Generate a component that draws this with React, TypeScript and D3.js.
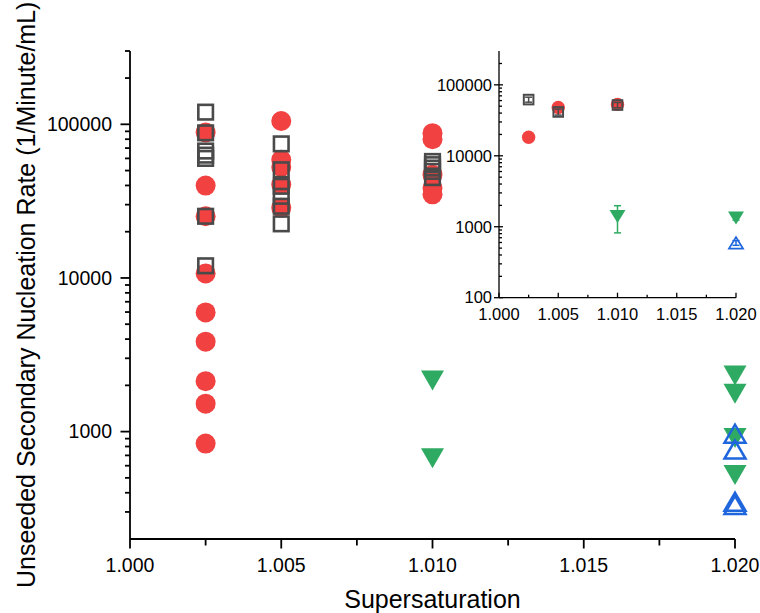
import React from "react";
import * as d3 from "d3";

// ---- Main plot data ----
const sqX = [1.0025, 1.0025, 1.0025, 1.0025, 1.0025, 1.0025, 1.0025,
  1.005, 1.005, 1.005, 1.005, 1.005, 1.005,
  1.01, 1.01, 1.01, 1.01, 1.01];
const sqY = [120000, 88000, 67000, 63000, 60000, 25200, 12000,
  74600, 50600, 39500, 34000, 29300, 22500,
  57300, 54600, 51900, 49400, 45000];

const circX = [1.0025, 1.0025, 1.0025, 1.0025, 1.0025, 1.0025, 1.0025, 1.0025, 1.0025,
  1.005, 1.005, 1.005, 1.005, 1.005,
  1.01, 1.01, 1.01, 1.01, 1.01];
const circY = [88500, 39900, 25200, 10700, 5970, 3850, 2130, 1520, 836,
  105000, 58800, 52700, 40500, 28600,
  87600, 80000, 47000, 38500, 35000];

const greenX = [1.01, 1.01, 1.02, 1.02, 1.02, 1.02];
const greenY = [2150, 671, 2320, 1763, 910, 521];

const blueX = [1.02, 1.02, 1.02, 1.02];
const blueY = [970, 764, 350, 333];

// ---- Inset data (means with error bars) ----
const inSqX = [1.0025, 1.005, 1.01];
const inSqY = [62000, 41500, 52000];
const inSqErr = [5000, 4000, 4500];

const inCircX = [1.0025, 1.005, 1.01];
const inCircY = [18300, 48000, 53000];
const inCircErr = [1500, 3500, 4000];

const inGreenX = [1.01, 1.02];
const inGreenY = [1400, 1330];
const inGreenErr = [580, 90];

const inBlueX = [1.02];
const inBlueY = [592];
const inBlueErr = [45];

// ---- ticks ----
const xMajor = [1.0, 1.005, 1.01, 1.015, 1.02];
const xMinor = [1.0025, 1.0075, 1.0125, 1.0175];
const mainYMajor = [1000, 10000, 100000];
const insetYMajor = [100, 1000, 10000, 100000];

const RED = "#f14141";
const GRAY = "#4a4a4a";
const GREEN = "#2eaa63";
const BLUE = "#1f66dd";
const FONT = "'Liberation Sans', Arial, sans-serif";

function tri(cx: number, cy: number, w: number, h: number, down: boolean) {
  const p = d3.path();
  if (down) {
    p.moveTo(cx - w / 2, cy - h / 2);
    p.lineTo(cx + w / 2, cy - h / 2);
    p.lineTo(cx, cy + h / 2);
  } else {
    p.moveTo(cx - w / 2, cy + h / 2);
    p.lineTo(cx + w / 2, cy + h / 2);
    p.lineTo(cx, cy - h / 2);
  }
  p.closePath();
  return p.toString();
}

function minorLog(lo: number, hi: number) {
  const out: number[] = [];
  for (let dec = 1; dec <= 1e6; dec *= 10) {
    for (let k = 2; k <= 9; k++) {
      const v = k * dec;
      if (v > lo && v < hi) out.push(v);
    }
  }
  return out;
}

export default function App() {
  const W = 760, H = 613;
  // main scales
  const x = d3.scaleLinear().domain([1.0, 1.02]).range([130, 735]);
  const y = d3.scaleLog().domain([200, 300000]).range([539, 51]);
  const yB = y(200);
  // inset scales
  const ix = d3.scaleLinear().domain([1.0, 1.02]).range([499, 736]);
  const iy = d3.scaleLog().domain([100, 300000]).range([297.7, 51]);
  const iyB = iy(100);

  const mainMinorY = minorLog(200, 300000);
  const insetMinorY = minorLog(100, 300000);

  const errBar = (xs: number[], ys: number[], es: number[], color: string, key: string) =>
    xs.map((xv, i) => {
      const cx = ix(xv);
      const y1 = iy(ys[i] + es[i]);
      const y2 = iy(Math.max(ys[i] - es[i], 1));
      return (
        <g key={key + i} stroke={color} strokeWidth={1.5}>
          <line x1={cx} x2={cx} y1={y1} y2={y2} />
          <line x1={cx - 3.5} x2={cx + 3.5} y1={y1} y2={y1} />
          <line x1={cx - 3.5} x2={cx + 3.5} y1={y2} y2={y2} />
        </g>
      );
    });

  return (
    <svg width={W} height={H} style={{ position: "absolute", left: 0, top: 0, background: "#fff" }}
      fontFamily={FONT}>
      {/* ===== MAIN PLOT ===== */}
      <g stroke="#000" strokeWidth={1.8}>
        <line x1={130} x2={130} y1={y(300000)} y2={yB} />
        <line x1={130} x2={735} y1={yB} y2={yB} />
        {mainYMajor.map((v) => <line key={"my" + v} x1={120.5} x2={130} y1={y(v)} y2={y(v)} />)}
        {mainMinorY.map((v) => <line key={"mmy" + v} x1={125} x2={130} y1={y(v)} y2={y(v)} />)}
        <line x1={125} x2={130} y1={y(300000)} y2={y(300000)} />
        {xMajor.map((v) => <line key={"mx" + v} x1={x(v)} x2={x(v)} y1={yB} y2={yB + 9.5} />)}
        {xMinor.map((v) => <line key={"mmx" + v} x1={x(v)} x2={x(v)} y1={yB} y2={yB + 6.5} />)}
      </g>
      {mainYMajor.map((v) => (
        <text key={"myl" + v} x={112} y={y(v)} dy="0.35em" textAnchor="end" fontSize={19.5}>{v}</text>
      ))}
      {xMajor.map((v) => (
        <text key={"mxl" + v} x={x(v)} y={572} textAnchor="middle" fontSize={19.5}>{v.toFixed(3)}</text>
      ))}
      <text x={432.5} y={608} textAnchor="middle" fontSize={25}>Supersaturation</text>
      <text transform={`translate(35,588) rotate(-90)`} textAnchor="start" fontSize={25}>
        Unseeded Secondary Nucleation Rate (1/Minute/mL)
      </text>

      {/* circles */}
      {circX.map((xv, i) => (
        <circle key={"c" + i} cx={x(xv)} cy={y(circY[i])} r={10} fill={RED} />
      ))}
      {/* squares */}
      {sqX.map((xv, i) => (
        <rect key={"s" + i} x={x(xv) - 7.3} y={y(sqY[i]) - 7.3} width={14.6} height={14.6}
          fill="none" stroke={GRAY} strokeWidth={2.6} />
      ))}
      {/* green down triangles */}
      {greenX.map((xv, i) => (
        <path key={"g" + i} d={tri(x(xv), y(greenY[i]), 23, 20, true)} fill={GREEN} />
      ))}
      {/* blue up triangles */}
      {blueX.map((xv, i) => (
        <path key={"b" + i} d={tri(x(xv), y(blueY[i]), 21, 18, false)} fill="none" stroke={BLUE} strokeWidth={2.5} />
      ))}

      {/* ===== INSET ===== */}
      <g stroke="#000" strokeWidth={1.3}>
        <line x1={499} x2={499} y1={51} y2={iyB} />
        <line x1={499} x2={736} y1={iyB} y2={iyB} />
        {insetYMajor.map((v) => <line key={"iy" + v} x1={494} x2={503} y1={iy(v)} y2={iy(v)} />)}
        {insetMinorY.map((v) => <line key={"imy" + v} x1={499} x2={502} y1={iy(v)} y2={iy(v)} />)}
        {xMajor.map((v) => <line key={"ix" + v} x1={ix(v)} x2={ix(v)} y1={iyB} y2={iyB - 5} />)}
        {xMinor.map((v) => <line key={"imx" + v} x1={ix(v)} x2={ix(v)} y1={iyB} y2={iyB - 3} />)}
      </g>
      {insetYMajor.map((v) => (
        <text key={"iyl" + v} x={492} y={iy(v)} dy="0.35em" textAnchor="end" fontSize={16.5}>{v}</text>
      ))}
      {xMajor.map((v) => (
        <text key={"ixl" + v} x={ix(v)} y={314} dy="0.35em" textAnchor="middle" fontSize={16.5}>{v.toFixed(3)}</text>
      ))}

      {errBar(inCircX, inCircY, inCircErr, RED, "ec")}
      {inCircX.map((xv, i) => (
        <circle key={"ic" + i} cx={ix(xv)} cy={iy(inCircY[i])} r={6.7} fill={RED} />
      ))}
      {errBar(inSqX, inSqY, inSqErr, GRAY, "es")}
      {inSqX.map((xv, i) => (
        <rect key={"is" + i} x={ix(xv) - 4.8} y={iy(inSqY[i]) - 4.8} width={9.6} height={9.6}
          fill="none" stroke={GRAY} strokeWidth={2} />
      ))}
      {errBar(inGreenX, inGreenY, inGreenErr, GREEN, "eg")}
      {inGreenX.map((xv, i) => (
        <path key={"ig" + i} d={tri(ix(xv), iy(inGreenY[i]), 16, 13, true)} fill={GREEN} />
      ))}
      {errBar(inBlueX, inBlueY, inBlueErr, BLUE, "eb")}
      {inBlueX.map((xv, i) => (
        <path key={"ib" + i} d={tri(ix(xv), iy(inBlueY[i]), 14, 11.5, false)} fill="none" stroke={BLUE} strokeWidth={1.8} />
      ))}
    </svg>
  );
}
